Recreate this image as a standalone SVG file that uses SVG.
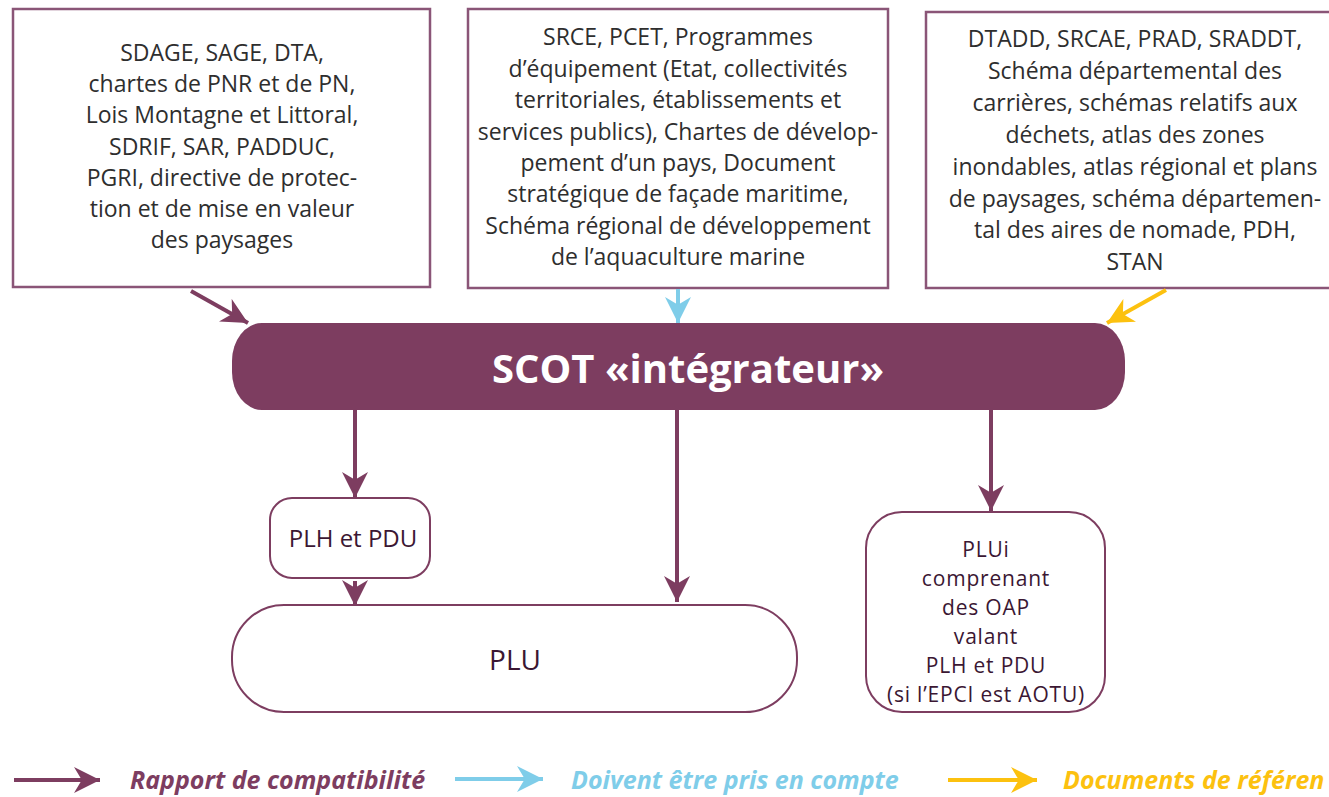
<svg xmlns="http://www.w3.org/2000/svg" width="1329" height="797" viewBox="0 0 1329 797">
<style>
.box{fill:#fff;stroke:#8a5577;stroke-width:2.5}
.rnd{fill:#fff;stroke:#7d3d60;stroke-width:2}
.t{font-family:"Open Sans","Liberation Sans",sans-serif;font-size:23px;fill:#2e2e2e;text-anchor:middle}
.tp{font-family:"Open Sans","Liberation Sans",sans-serif;font-size:24px;fill:#3b1733;text-anchor:middle}
.tu{font-family:"Open Sans","Liberation Sans",sans-serif;font-size:28px;fill:#3b1733;text-anchor:middle}
.tq{font-family:"Open Sans","Liberation Sans",sans-serif;font-size:21px;letter-spacing:0.8px;fill:#3b1733;text-anchor:middle}
.lp{stroke:#7d3d60;stroke-width:4;fill:none}
.lb{stroke:#7fcde9;stroke-width:4;fill:none}
.ly{stroke:#fcc10f;stroke-width:4;fill:none}
.leg{font-family:"Open Sans","Liberation Sans",sans-serif;font-size:25px;font-weight:bold;font-style:italic}
</style>
<defs>
<marker id="aph" viewBox="0 0 10 10" refX="10" refY="5" markerWidth="26" markerHeight="26" markerUnits="userSpaceOnUse" orient="auto"><path d="M0,0 L10,5 L0,10 L3,5 Z" fill="#7d3d60"/></marker>
<marker id="abh" viewBox="0 0 10 10" refX="10" refY="5" markerWidth="26" markerHeight="26" markerUnits="userSpaceOnUse" orient="auto"><path d="M0,0 L10,5 L0,10 L3,5 Z" fill="#7fcde9"/></marker>
<marker id="ayh" viewBox="0 0 10 10" refX="10" refY="5" markerWidth="26" markerHeight="26" markerUnits="userSpaceOnUse" orient="auto"><path d="M0,0 L10,5 L0,10 L3,5 Z" fill="#fcc10f"/></marker>
</defs>
<rect width="1329" height="797" fill="#fff"/>

<g id="box1">
<rect class="box" x="13" y="9" width="417" height="278"/>
<text class="t" x="222" y="61">SDAGE, SAGE, DTA,</text>
<text class="t" x="222" y="92">chartes de  PNR et de PN,</text>
<text class="t" x="222" y="123">Lois Montagne et Littoral,</text>
<text class="t" x="222" y="155">SDRIF, SAR, PADDUC,</text>
<text class="t" x="222" y="186">PGRI, directive de protec-</text>
<text class="t" x="222" y="217">tion et de mise en valeur</text>
<text class="t" x="222" y="248">des paysages</text>
</g>

<g id="box2">
<rect class="box" x="468" y="9" width="420" height="279"/>
<text class="t" x="678" y="45">SRCE, PCET, Programmes</text>
<text class="t" x="678" y="77">d’équipement (Etat, collectivités</text>
<text class="t" x="678" y="108">territoriales, établissements et</text>
<text class="t" x="678" y="140">services publics), Chartes de dévelop-</text>
<text class="t" x="678" y="171">pement d’un pays, Document</text>
<text class="t" x="678" y="202">stratégique de façade maritime,</text>
<text class="t" x="678" y="234">Schéma régional de développement</text>
<text class="t" x="678" y="265">de l’aquaculture marine</text>
</g>

<g id="box3">
<rect class="box" x="926" y="12" width="420" height="276"/>
<text class="t" x="1135" y="47">DTADD, SRCAE, PRAD, SRADDT,</text>
<text class="t" x="1135" y="79">Schéma départemental des</text>
<text class="t" x="1135" y="111">carrières, schémas relatifs aux</text>
<text class="t" x="1135" y="143">déchets, atlas des zones</text>
<text class="t" x="1135" y="175">inondables, atlas régional et plans</text>
<text class="t" x="1135" y="207">de paysages, schéma départemen-</text>
<text class="t" x="1135" y="238">tal des aires de nomade, PDH,</text>
<text class="t" x="1135" y="270">STAN</text>
</g>

<g id="scot">
<rect x="232" y="323" width="893" height="87" rx="30" ry="38" fill="#7d3d60"/>
<text x="688" y="383" font-family="'Open Sans','Liberation Sans',sans-serif" font-size="40" font-weight="bold" fill="#fff" text-anchor="middle">SCOT «intégrateur»</text>
</g>

<g id="plh">
<rect class="rnd" x="270" y="498" width="160" height="80" rx="22" ry="22"/>
<text class="tp" x="353" y="547">PLH et PDU</text>
</g>

<g id="plu">
<rect class="rnd" x="232" y="605" width="565" height="107" rx="52" ry="52"/>
<text class="tu" x="515" y="670">PLU</text>
</g>

<g id="plui">
<rect class="rnd" x="866" y="512" width="239" height="200" rx="36" ry="36"/>
<text class="tq" x="986" y="557">PLUi</text>
<text class="tq" x="986" y="586">comprenant</text>
<text class="tq" x="986" y="615">des OAP</text>
<text class="tq" x="986" y="644">valant</text>
<text class="tq" x="986" y="673">PLH et PDU</text>
<text class="tq" x="986" y="702">(si l’EPCI est AOTU)</text>
</g>

<g id="connectors">
<line class="lp" x1="191" y1="291" x2="248" y2="323" marker-end="url(#aph)"/>
<line class="lb" x1="678" y1="289" x2="678" y2="323" marker-end="url(#abh)"/>
<line class="ly" x1="1166" y1="290" x2="1107" y2="323" marker-end="url(#ayh)"/>
<line class="lp" x1="355" y1="410" x2="355" y2="498" marker-end="url(#aph)"/>
<line class="lp" x1="355" y1="581" x2="355" y2="606" marker-end="url(#aph)"/>
<line class="lp" x1="677" y1="410" x2="677" y2="602" marker-end="url(#aph)"/>
<line class="lp" x1="991" y1="410" x2="991" y2="511" marker-end="url(#aph)"/>
</g>

<g id="legend">
<line class="lp" x1="14" y1="780" x2="100" y2="780" marker-end="url(#aph)"/>
<text class="leg" x="130" y="789" fill="#7d3d60">Rapport de compatibilité</text>
<line class="lb" x1="455" y1="779" x2="543" y2="779" marker-end="url(#abh)"/>
<text class="leg" x="571" y="789" fill="#7fcde9">Doivent être pris en compte</text>
<line class="ly" x1="948" y1="780" x2="1037" y2="780" marker-end="url(#ayh)"/>
<text class="leg" x="1063" y="789" fill="#fcc10f">Documents de référen</text>
</g>
</svg>
